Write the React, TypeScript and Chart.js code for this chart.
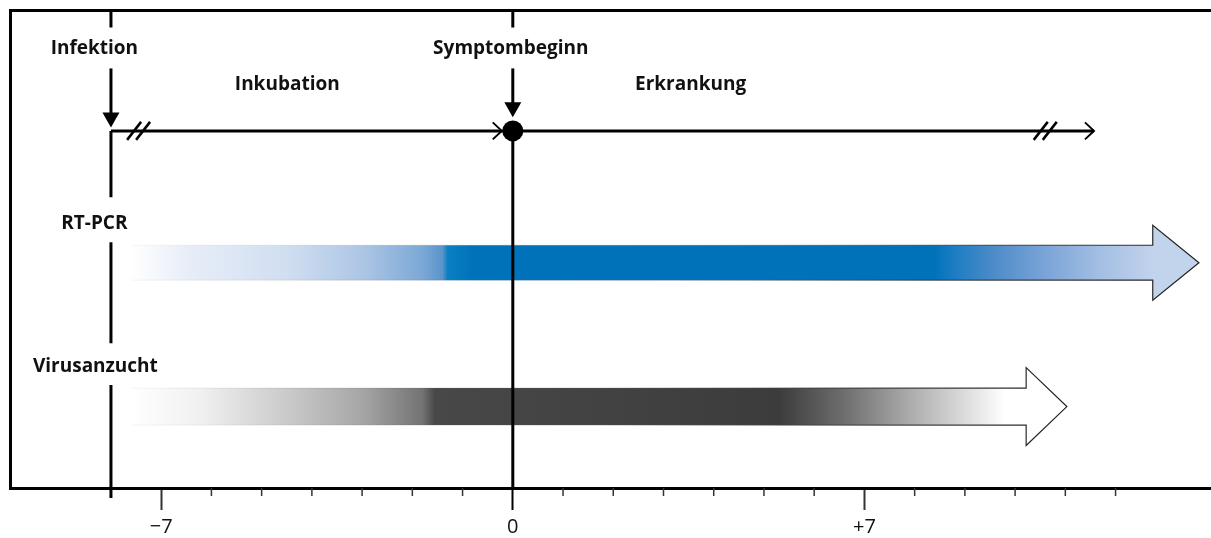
import React, { useEffect, useRef } from "react";
import { Chart, registerables } from "chart.js";

Chart.register(...registerables);

// ---- data (days relative to symptom onset; y in arbitrary row units 0..10) ----
const eventNames = ["Infektion", "Symptombeginn"];
const eventDays = [-8, 0];
const eventLabelDays = [-8.33, -0.04];
const eventArrowTipY = [7.552, 7.762];
const phaseNames = ["Inkubation", "Erkrankung"];
const phaseLabelDays = [-4.49, 3.54];
const testNames = ["RT-PCR", "Virusanzucht"];
const testLabelDays = [-8.33, -8.31];
const testLabelY = [5.544, 2.552];
const testY = [4.718, 1.705];
const testStart = [-7.6, -7.6];
const testHeadStart = [12.74, 10.22];
const testTip = [13.66, 11.03];
const testHeadColor = ["#c2d3ec", "#ffffff"];
const rtpcrStops: [number, string][] = [
  [-7.6, "#ffffff"], [-6.5, "#e8eef8"], [-4.5, "#d0def1"], [-3.0, "#adc6e5"],
  [-1.8, "#7ca8d6"], [-1.4, "#5a94cb"], [-1.3, "#0a80c4"], [-0.8, "#0072ba"],
  [8.4, "#0072ba"], [8.7, "#167bc1"], [9.6, "#4f8cc9"], [10.6, "#7aa4d7"],
  [11.7, "#a4bfe3"], [12.74, "#c2d3ec"],
];
const virusStops: [number, string][] = [
  [-7.6, "#ffffff"], [-6.2, "#f0f0f0"], [-4.4, "#c8c8c8"], [-3.0, "#a6a6a6"],
  [-1.8, "#737373"], [-1.55, "#484848"], [5.3, "#3c3c3c"], [6.6, "#6e6e6e"],
  [8.0, "#b0b0b0"], [9.0, "#dcdcdc"], [9.8, "#ffffff"], [10.22, "#ffffff"],
];
const testStops = [rtpcrStops, virusStops];
const timelineY = 7.479;
const timelineStart = -8;
const timelineEnd = 11.57;
const breakDays = [-7.45, 10.6];
const onsetChevronDay = -0.22;
const eventLabelY = 9.205;
const phaseLabelY = 8.452;
const arrowFromY = 8.787;
const infektionSegments: [number, number][] = [[10, 9.644], [7.479, 6.088], [5.146, 3.033], [2.155, 0]];
const onsetSegments: [number, number][] = [[10, 9.644], [7.479, 0]];
const majorTickDays = [-7, 0, 7];
const majorTickLabels = ["\u22127", "0", "+7"];
const minorTickDays = [-8, -6, -5, -4, -3, -2, -1, 1, 2, 3, 4, 5, 6, 8, 9, 10, 11, 12];
const bodyHalf = [0.366, 0.387];
const headHalf = [0.785, 0.816];

const FONT = "'Open Sans', Lato, sans-serif";

function segData(day: number, segs: [number, number][]) {
  const out: any[] = [];
  segs.forEach(([a, b], i) => {
    if (i > 0) out.push({ x: day, y: null });
    out.push({ x: day, y: a }, { x: day, y: b });
  });
  return out;
}

const diagramPlugin = {
  id: "diagram",
  afterLayout(chart: any) {
    // let the plot area run to the right edge of the canvas (the figure is cropped there)
    const x = chart.scales.x;
    const target = chart.width;
    if (x.right !== target) {
      x.right = target;
      x.width = x.right - x.left;
      chart.chartArea.right = target;
      chart.chartArea.width = target - chart.chartArea.left;
      x.configure();
    }
  },
  beforeDatasetsDraw(chart: any) {
    const { ctx, chartArea, scales } = chart;
    const x = scales.x, y = scales.y;
    ctx.save();
    // frame (top + left)
    ctx.strokeStyle = "#000";
    ctx.lineWidth = 3;
    ctx.beginPath();
    ctx.moveTo(chartArea.left, chartArea.bottom);
    ctx.lineTo(chartArea.left, chartArea.top);
    ctx.lineTo(chart.width + 2, chartArea.top);
    ctx.stroke();

    // gradient arrows
    testNames.forEach((_, i) => {
      const x0 = x.getPixelForValue(testStart[i]);
      const xh = x.getPixelForValue(testHeadStart[i]);
      const xt = x.getPixelForValue(testTip[i]);
      const cy = y.getPixelForValue(testY[i]);
      const bt = y.getPixelForValue(testY[i] + bodyHalf[i]);
      const bb = y.getPixelForValue(testY[i] - bodyHalf[i]);
      const ht = y.getPixelForValue(testY[i] + headHalf[i]);
      const hb = y.getPixelForValue(testY[i] - headHalf[i]);
      const grad = ctx.createLinearGradient(x0, 0, xh, 0);
      testStops[i].forEach(([v, c]) => {
        const t = Math.min(1, Math.max(0, (x.getPixelForValue(v) - x0) / (xh - x0)));
        grad.addColorStop(t, c);
      });
      ctx.beginPath();
      ctx.moveTo(x0, bt);
      ctx.lineTo(xh + 0.5, bt);
      ctx.lineTo(xh + 0.5, bb);
      ctx.lineTo(x0, bb);
      ctx.closePath();
      ctx.fillStyle = grad;
      ctx.fill();
      ctx.beginPath();
      ctx.moveTo(xh, ht);
      ctx.lineTo(xt, cy);
      ctx.lineTo(xh, hb);
      ctx.closePath();
      ctx.fillStyle = testHeadColor[i];
      ctx.fill();
      // outline
      const sg = ctx.createLinearGradient(x0, 0, xt, 0);
      sg.addColorStop(0, "rgba(90,90,90,0.05)");
      sg.addColorStop(0.5, "rgba(90,90,90,0.25)");
      sg.addColorStop(0.8, "rgba(50,50,50,0.85)");
      sg.addColorStop(1, "rgba(30,30,30,1)");
      ctx.strokeStyle = sg;
      ctx.lineWidth = 1.2;
      ctx.lineJoin = "miter";
      ctx.beginPath();
      ctx.moveTo(x0, bt);
      ctx.lineTo(xh, bt);
      ctx.lineTo(xh, ht);
      ctx.lineTo(xt, cy);
      ctx.lineTo(xh, hb);
      ctx.lineTo(xh, bb);
      ctx.lineTo(x0, bb);
      ctx.stroke();
    });
    ctx.restore();
  },
  afterDatasetsDraw(chart: any) {
    const { ctx, chartArea, scales } = chart;
    const x = scales.x, y = scales.y;
    ctx.save();
    ctx.strokeStyle = "#000";
    ctx.fillStyle = "#000";
    const ty = y.getPixelForValue(timelineY);

    // chevrons on the timeline
    const chevron = (tipX: number) => {
      ctx.lineWidth = 2;
      ctx.lineJoin = "miter";
      ctx.beginPath();
      ctx.moveTo(tipX - 9, ty - 8.5);
      ctx.lineTo(tipX, ty);
      ctx.lineTo(tipX - 9, ty + 8.5);
      ctx.stroke();
    };
    chevron(x.getPixelForValue(timelineEnd));
    chevron(x.getPixelForValue(onsetChevronDay));

    // break marks
    breakDays.forEach((d) => {
      const cx = x.getPixelForValue(d);
      ctx.lineWidth = 2.5;
      [-4.5, 4.5].forEach((off) => {
        ctx.beginPath();
        ctx.moveTo(cx + off - 7, ty + 9);
        ctx.lineTo(cx + off + 7, ty - 9);
        ctx.stroke();
      });
    });

    // down arrows for events
    eventDays.forEach((d, i) => {
      const cx = x.getPixelForValue(d);
      const y0 = y.getPixelForValue(arrowFromY);
      const tip = y.getPixelForValue(eventArrowTipY[i]);
      ctx.lineWidth = 3;
      ctx.beginPath();
      ctx.moveTo(cx, y0);
      ctx.lineTo(cx, tip - 12);
      ctx.stroke();
      ctx.beginPath();
      ctx.moveTo(cx - 8.5, tip - 15);
      ctx.lineTo(cx + 8.5, tip - 15);
      ctx.lineTo(cx, tip);
      ctx.closePath();
      ctx.fill();
    });

    // minor ticks
    const bottom = chartArea.bottom;
    minorTickDays.forEach((d) => {
      const px = x.getPixelForValue(d);
      const isEvent = eventDays.includes(d);
      ctx.lineWidth = isEvent ? 3 : 1.5;
      ctx.strokeStyle = isEvent ? "#000" : "#333";
      ctx.beginPath();
      ctx.moveTo(px, bottom);
      ctx.lineTo(px, bottom + (isEvent ? 10 : 8));
      ctx.stroke();
    });

    // labels
    ctx.fillStyle = "#111";
    ctx.textAlign = "center";
    ctx.textBaseline = "middle";
    ctx.font = `bold 19px ${FONT}`;
    eventNames.forEach((n, i) => ctx.fillText(n, x.getPixelForValue(eventLabelDays[i]), y.getPixelForValue(eventLabelY)));
    phaseNames.forEach((n, i) => ctx.fillText(n, x.getPixelForValue(phaseLabelDays[i]), y.getPixelForValue(phaseLabelY)));
    testNames.forEach((n, i) => ctx.fillText(n, x.getPixelForValue(testLabelDays[i]), y.getPixelForValue(testLabelY[i])));
    ctx.restore();
  },
};

export default function App() {
  const ref = useRef<HTMLCanvasElement>(null);
  useEffect(() => {
    if (!ref.current) return;
    const lineDs = (data: any[], width: number) => ({
      data,
      borderColor: "#000",
      borderWidth: width,
      pointRadius: 0,
      showLine: true,
      spanGaps: false,
      clip: false as any,
      borderCapStyle: "butt" as const,
    });
    const chart = new Chart(ref.current, {
      type: "line",
      data: {
        datasets: [
          lineDs(segData(eventDays[0], infektionSegments), 3),
          lineDs(segData(eventDays[1], onsetSegments), 3),
          lineDs([{ x: timelineStart, y: timelineY }, { x: timelineEnd, y: timelineY }], 3),
          {
            data: [{ x: eventDays[1], y: timelineY }],
            showLine: false,
            pointRadius: 10.5,
            pointBackgroundColor: "#000",
            pointBorderColor: "#000",
            pointBorderWidth: 0,
            clip: false as any,
          },
        ],
      },
      options: {
        animation: false,
        responsive: false,
        maintainAspectRatio: false,
        parsing: false as any,
        layout: { padding: { left: 9, top: 10, right: 0, bottom: 0 } },
        plugins: { legend: { display: false }, tooltip: { enabled: false } },
        scales: {
          x: {
            type: "linear",
            min: -10,
            max: 13.9,
            afterBuildTicks: (s: any) => {
              s.ticks = majorTickDays.map((v) => ({ value: v }));
            },
            afterFit: (s: any) => {
              s.height = 50;
              s.paddingLeft = 0;
              s.paddingRight = 0;
            },
            ticks: {
              autoSkip: false,
              maxRotation: 0,
              padding: 5,
              color: "#111",
              font: { family: FONT, size: 20 },
              callback: (v: any) => {
                const i = majorTickDays.indexOf(Number(v));
                return i >= 0 ? majorTickLabels[i] : "";
              },
            },
            grid: {
              drawOnChartArea: false,
              drawTicks: true,
              tickLength: 22,
              tickWidth: 2,
              tickColor: (c: any) => (c.tick && c.tick.value === 0 ? "#000" : "#333"),
            },
            border: { display: true, width: 3, color: "#000" },
          },
          y: { type: "linear", min: 0, max: 10, display: false },
        },
      },
      plugins: [diagramPlugin],
    });
    return () => chart.destroy();
  }, []);
  return (
    <div style={{ position: "absolute", left: 0, top: 0, width: 1211, height: 538, background: "#fff" }}>
      <canvas ref={ref} width={1211} height={538} />
    </div>
  );
}
